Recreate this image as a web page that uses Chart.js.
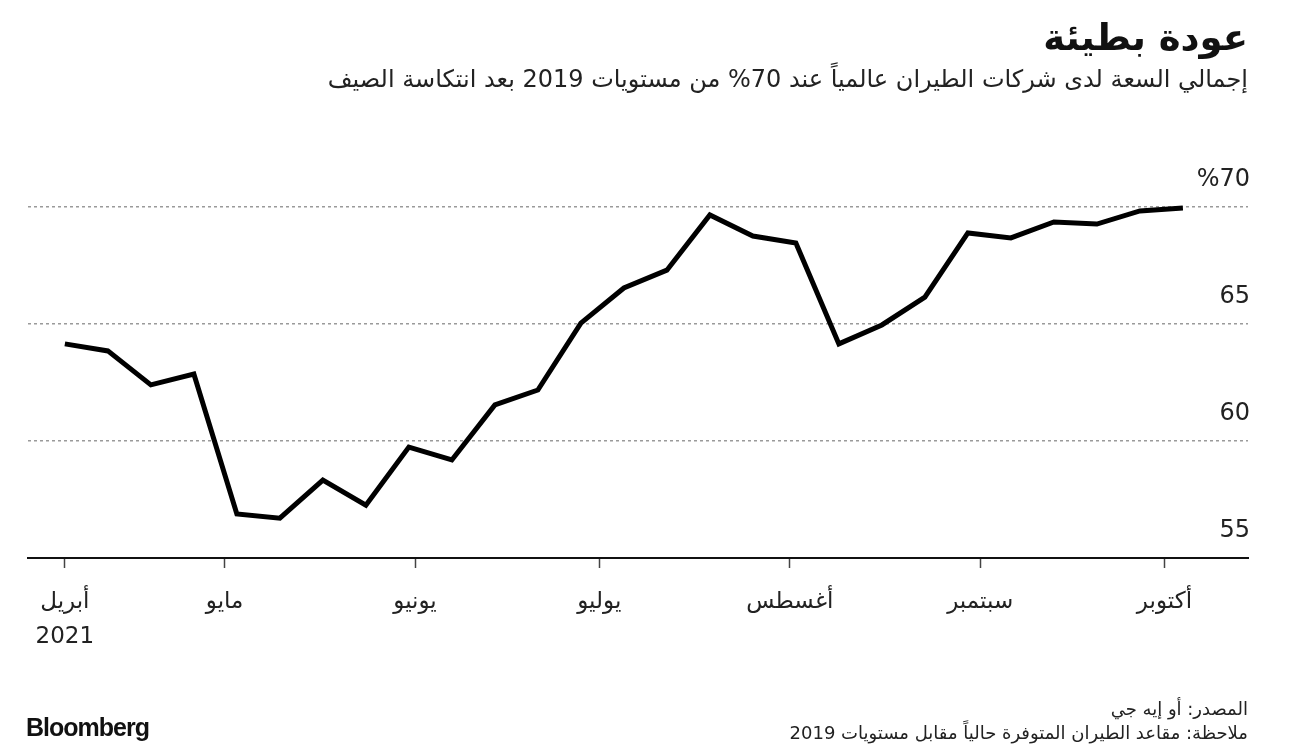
<!DOCTYPE html>
<html lang="ar">
<head>
<meta charset="utf-8">
<script src="https://cdn.jsdelivr.net/npm/chart.js@4.4.1/dist/chart.umd.min.js"></script>
<style>
  html,body{margin:0;padding:0;background:#fff;}
  body{width:1296px;height:754px;position:relative;overflow:hidden;font-family:"DejaVu Sans","Noto Sans",sans-serif;color:#111;}
  .txt{position:absolute;white-space:nowrap;direction:rtl;}
  #title{right:48px;top:16px;font-size:37px;font-weight:bold;}
  #subtitle{right:48px;top:65px;font-size:24px;color:#222;}
  #source{right:48px;top:698px;font-size:18px;color:#222;}
  #note{right:48px;top:722px;font-size:18px;color:#222;}
  #logo{position:absolute;left:26px;top:713px;font-family:"Liberation Sans",Arial,sans-serif;font-weight:bold;font-size:25px;letter-spacing:-1px;color:#111;}
  #wrap{position:absolute;left:0;top:0;width:1296px;height:754px;}
</style>
</head>
<body>
<div id="wrap"><canvas id="chart" width="1296" height="754"></canvas></div>
<div id="title" class="txt">عودة بطيئة</div>
<div id="subtitle" class="txt">إجمالي السعة لدى شركات الطيران عالمياً عند 70% من مستويات 2019 بعد انتكاسة الصيف</div>
<div id="source" class="txt">المصدر: أو إيه جي</div>
<div id="note" class="txt">ملاحظة: مقاعد الطيران المتوفرة حالياً مقابل مستويات 2019</div>
<div id="logo">Bloomberg</div>

<script>
// Datos (semanales, 2021)
const weeks = ['2021-04-05','2021-04-12','2021-04-19','2021-04-26','2021-05-03','2021-05-10','2021-05-17',
  '2021-05-24','2021-05-31','2021-06-07','2021-06-14','2021-06-21','2021-06-28','2021-07-05','2021-07-12',
  '2021-07-19','2021-07-26','2021-08-02','2021-08-09','2021-08-16','2021-08-23','2021-08-30','2021-09-06',
  '2021-09-13','2021-09-20','2021-09-27','2021-10-04'];
const capacity = [64.15,63.85,62.4,62.86,56.88,56.7,58.33,57.26,59.74,59.19,61.54,62.18,65.04,66.54,67.3,
  69.66,68.76,68.46,64.15,64.96,66.15,68.89,68.68,69.36,69.27,69.83,69.96];
const tickDates = ['2021-04-05','2021-05-01','2021-06-01','2021-07-01','2021-08-01','2021-09-01','2021-10-01'];
const monthLabels = ['أبريل','مايو','يونيو','يوليو','أغسطس','سبتمبر','أكتوبر'];
const yearLabel = '2021';
const yTicks = [55,60,65,70];
const yTickLabels = ['55','60','65','%70'];

// Helpers
const dayOfYear = (s)=>{
  const d = new Date(s+'T00:00:00Z');
  return Math.round((d - Date.UTC(d.getUTCFullYear(),0,1))/86400000)+1;
};
const xs = weeks.map(dayOfYear);
const tickDays = tickDates.map(dayOfYear);

// Etiquetas del eje Y encima de las líneas
const yLabelsPlugin = {
  id:'yLabels',
  afterDraw(chart){
    const {ctx, chartArea, scales:{y}} = chart;
    ctx.save();
    ctx.font = '24px "DejaVu Sans", sans-serif';
    ctx.fillStyle = '#222';
    ctx.textAlign = 'right';
    ctx.textBaseline = 'middle';
    yTicks.forEach((v,i)=>{
      ctx.fillText(yTickLabels[i], chartArea.right+2, y.getPixelForValue(v)-27);
    });
    ctx.restore();
  }
};

new Chart(document.getElementById('chart'), {
  type:'line',
  data:{
    datasets:[{
      data: xs.map((x,i)=>({x, y:capacity[i]})),
      borderColor:'#000',
      borderWidth:5,
      pointRadius:0,
      tension:0,
      borderJoinStyle:'miter',
      clip:false
    }]
  },
  options:{
    responsive:false,
    animation:false,
    devicePixelRatio:1,
    layout:{ padding:{ left:28, right:48, top:207, bottom:76 } },
    plugins:{ legend:{display:false}, tooltip:{enabled:false} },
    scales:{
      x:{
        type:'linear',
        min: xs[0]-6,
        max: xs[xs.length-1]+10.6,
        afterBuildTicks(scale){ scale.ticks = tickDays.map(v=>({value:v})); },
        afterFit(scale){ scale.height = 120; },
        grid:{ drawOnChartArea:false, drawTicks:true, tickLength:10, tickColor:'#444', tickWidth:1.5 },
        border:{ display:true, color:'#111', width:2 },
        ticks:{
          autoSkip:false, maxRotation:0, padding:17,
          color:'#222',
          font:{ size:23, family:'"DejaVu Sans", sans-serif', lineHeight:1.5 },
          callback:(v,i)=> i===0 ? [monthLabels[0], yearLabel] : monthLabels[i]
        }
      },
      y:{
        position:'right',
        min:55, max:70,
        afterBuildTicks(scale){ scale.ticks = yTicks.map(v=>({value:v})); },
        afterFit(scale){ scale.width = 0; },
        ticks:{ display:false },
        grid:{ color:'#9a9a9a', lineWidth:1.5, drawTicks:false },
        border:{ display:false, dash:[3,3] }
      }
    }
  },
  plugins:[yLabelsPlugin]
});
</script>
</body>
</html>
